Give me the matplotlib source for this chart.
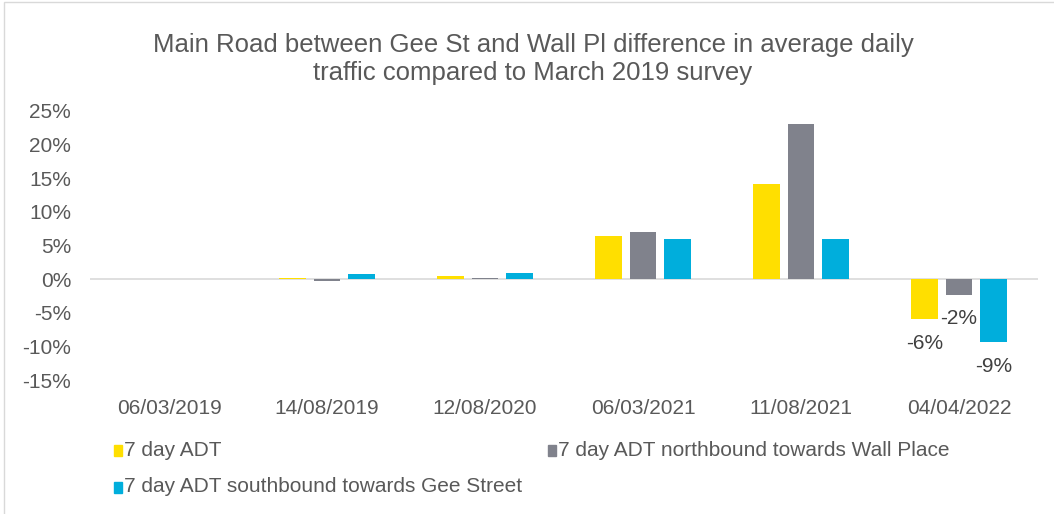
import numpy as np
import matplotlib
matplotlib.use("Agg")
import matplotlib.pyplot as plt
from matplotlib.patches import Rectangle

plt.rcParams['font.family'] = ['Liberation Sans', 'DejaVu Sans']

# data
dates = ["06/03/2019", "14/08/2019", "12/08/2020", "06/03/2021", "11/08/2021", "04/04/2022"]
adt_total = [0.0, 0.001, 0.005, 0.064, 0.141, -0.060]
adt_north = [0.0, -0.003, 0.001, 0.070, 0.230, -0.023]
adt_south = [0.0, 0.007, 0.009, 0.060, 0.060, -0.094]
series_names = ["7 day ADT",
                "7 day ADT northbound towards Wall Place",
                "7 day ADT southbound towards Gee Street"]
colors = ["#FFDF00", "#80828C", "#00AEDC"]
yticks = [-0.15, -0.10, -0.05, 0.0, 0.05, 0.10, 0.15, 0.20, 0.25]
labelled = {5: ["-6%", "-2%", "-9%"]}

W, H = 1054, 514
fig = plt.figure(figsize=(W / 100, H / 100), dpi=100)
ax = fig.add_axes([90 / W, 1 - 380 / H, (1038 - 90) / W, (380 - 111) / H])

x = np.arange(len(dates))
bw = 0.17
step = 0.22
all_series = [adt_total, adt_north, adt_south]
for i, (vals, c) in enumerate(zip(all_series, colors)):
    ax.bar(x + (i - 1) * step, vals, bw, color=c, zorder=3, label=series_names[i])

# data labels on the last group, just under each bar
for gi, texts in labelled.items():
    for i, t in enumerate(texts):
        v = all_series[i][gi]
        ax.text(x[gi] + (i - 1) * step, v - 0.036, t, ha="center", va="center",
                fontsize=15, color="#404040", zorder=4)

ax.axhline(0, color="#D9D9D9", lw=1.2, zorder=2)
ax.set_xlim(-0.5, len(dates) - 0.5)
ax.set_ylim(-0.15, 0.25)
ax.set_yticks(yticks)
ax.set_yticklabels([f"{round(v * 100):d}%" for v in yticks])
ax.set_xticks(x)
ax.set_xticklabels(dates)
ax.tick_params(axis="both", length=0, labelsize=15, labelcolor="#595959")
ax.tick_params(axis="x", pad=13.5)
ax.tick_params(axis="y", pad=13.5)
for s in ax.spines.values():
    s.set_visible(False)

fig.text(533 / W, 1 - 59 / H,
         "Main Road between Gee St and Wall Pl difference in average daily\ntraffic compared to March 2019 survey",
         ha="center", va="center", fontsize=18.5, color="#595959", linespacing=1.2)

# legend, laid out like the original (two columns, wrapped)
leg_pos = [(114, 450), (548, 450), (114, 487)]
for (lx, ly), c, name in zip(leg_pos, colors, series_names):
    fig.patches.append(Rectangle((lx / W, 1 - (ly + 6) / H), 8 / W, 11 / H,
                                 transform=fig.transFigure, color=c))
    fig.text((lx + 10) / W, 1 - ly / H, name, ha="left", va="center",
             fontsize=15, color="#595959")

# outer chart border
fig.patches.append(Rectangle((4 / W, -0.01), 1.02, 1 - 2 / H + 0.01, transform=fig.transFigure,
                             fill=False, edgecolor="#D9D9D9", lw=1))

fig.savefig("out.png", dpi=100)
